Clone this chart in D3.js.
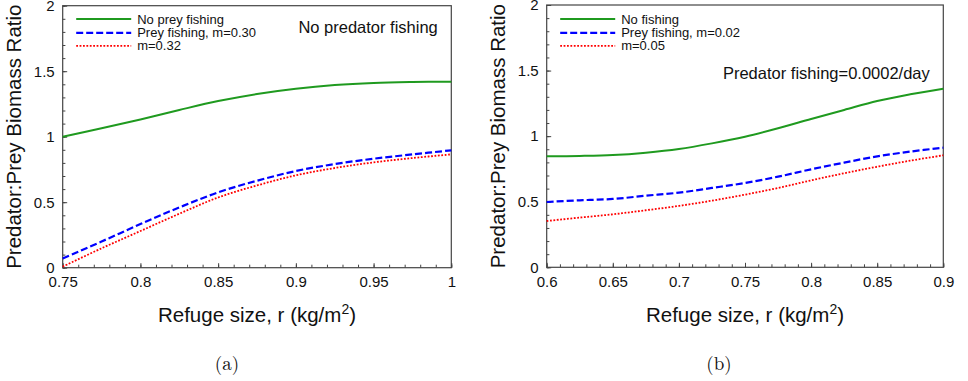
<!DOCTYPE html>
<html><head><meta charset="utf-8">
<script src="https://cdn.jsdelivr.net/npm/d3@7"></script>
<style>
html,body{margin:0;padding:0;background:#fff;}
svg text{fill:#111;}
</style></head>
<body>
<svg id="c" width="968" height="381" font-family="'Liberation Sans',Arial,Helvetica,sans-serif"></svg>
<script>
// ---------- data ----------
const rA = [0.75,0.775,0.8,0.825,0.85,0.875,0.9,0.925,0.95,0.975,1.0];
const noFishA = [1.00,1.064,1.132,1.204,1.272,1.326,1.366,1.394,1.41,1.417,1.42];
const preyFishA = [0.071,0.20,0.333,0.46,0.575,0.664,0.738,0.791,0.832,0.865,0.896];
const preyFish2A = [0.008,0.148,0.28,0.412,0.536,0.628,0.705,0.761,0.804,0.837,0.865];

const rB = [0.6,0.625,0.65,0.675,0.7,0.725,0.75,0.775,0.8,0.825,0.85,0.875,0.9];
const noFishB = [0.846,0.849,0.856,0.874,0.902,0.945,0.996,1.06,1.131,1.2,1.268,1.319,1.362];
const preyFishB = [0.498,0.511,0.521,0.546,0.569,0.605,0.643,0.691,0.747,0.798,0.846,0.882,0.912];
const preyFish2B = [0.353,0.379,0.404,0.435,0.468,0.508,0.554,0.605,0.663,0.717,0.767,0.813,0.854];

const legendA = ["No prey fishing","Prey fishing, m=0.30","m=0.32"];
const legendB = ["No fishing","Prey fishing, m=0.02","m=0.05"];
const noteA = "No predator fishing";
const noteB = "Predator fishing=0.0002/day";

const yTicks = [0,0.5,1,1.5,2];
const yTickLabels = ["0","0.5","1","1.5","2"];
const xTicksA = [0.75,0.8,0.85,0.9,0.95,1];
const xTickLabelsA = ["0.75","0.8","0.85","0.9","0.95","1"];
const xTicksB = [0.6,0.65,0.7,0.75,0.8,0.85,0.9];
const xTickLabelsB = ["0.6","0.65","0.7","0.75","0.8","0.85","0.9"];
const yTitle = "Predator:Prey Biomass Ratio";
const xTitle = "Refuge size, r (kg/m";
const subLabels = ["(a)","(b)"];

// ---------- styles ----------
const seriesStyle = [
  {color:"#1f9a1f", width:2, dash:null},
  {color:"#0000ff", width:2.2, dash:"7,3"},
  {color:"#ff0000", width:1.8, dash:"1.8,1.6"}
];

const svg = d3.select("#c");

function panel(opts){
  const {left,right,top,bottom,xDomain,xTicks,xLabels,xMinorStep,r,series,legend,note,noteY,sub,subX} = opts;
  const x = d3.scaleLinear().domain(xDomain).range([left,right]);
  const y = d3.scaleLinear().domain([0,2]).range([bottom,top]);
  const g = svg.append("g");

  // minor ticks
  const xMinor = d3.range(xDomain[0], xDomain[1]+1e-9, xMinorStep).map(v=>+v.toFixed(4));
  const yMinor = d3.range(0, 2+1e-9, 0.1).map(v=>+v.toFixed(4));
  g.append("g").attr("transform",`translate(0,${bottom})`)
    .call(d3.axisBottom(x).tickValues(xMinor).tickSizeInner(-3).tickSizeOuter(0).tickFormat(""))
    .call(s=>{s.select(".domain").remove(); s.selectAll("line").attr("stroke","#444");});
  g.append("g").attr("transform",`translate(${left},0)`)
    .call(d3.axisLeft(y).tickValues(yMinor).tickSizeInner(-2.7).tickSizeOuter(0).tickFormat(""))
    .call(s=>{s.select(".domain").remove(); s.selectAll("line").attr("stroke","#444");});

  // major ticks + labels
  g.append("g").attr("transform",`translate(0,${bottom})`)
    .call(d3.axisBottom(x).tickValues(xTicks).tickSizeInner(-4.5).tickSizeOuter(0).tickPadding(9)
      .tickFormat((d,i)=>xLabels[i]))
    .call(s=>{s.select(".domain").remove(); s.selectAll("line").attr("stroke","#444");
      s.attr("font-family",null).attr("font-size",null);
      s.selectAll("text").attr("font-size","15px").attr("fill","#111");});
  g.append("g").attr("transform",`translate(${left},0)`)
    .call(d3.axisLeft(y).tickValues(yTicks).tickSizeInner(-4.5).tickSizeOuter(0).tickPadding(8)
      .tickFormat((d,i)=>yTickLabels[i]))
    .call(s=>{s.select(".domain").remove(); s.selectAll("line").attr("stroke","#444");
      s.attr("font-family",null).attr("font-size",null);
      s.selectAll("text").attr("font-size","15px").attr("fill","#111");});

  // frame
  g.append("rect").attr("x",left).attr("y",top).attr("width",right-left).attr("height",bottom-top)
    .attr("fill","none").attr("stroke","#444").attr("stroke-width",1.2);

  // lines
  const line = d3.line().x((d,i)=>x(r[i])).y(d=>y(d)).curve(d3.curveCatmullRom.alpha(0.5));
  series.forEach((s,k)=>{
    const st = seriesStyle[k];
    g.append("path").datum(s).attr("d",line).attr("fill","none")
      .attr("stroke",st.color).attr("stroke-width",st.width)
      .attr("stroke-dasharray",st.dash);
  });

  // legend
  const lx0 = left+13.5, lx1 = left+68.5, ly = [19,32.8,45.8];
  legend.forEach((t,k)=>{
    const st = seriesStyle[k];
    g.append("line").attr("x1",lx0).attr("x2",lx1).attr("y1",ly[k]).attr("y2",ly[k])
      .attr("stroke",st.color).attr("stroke-width",st.width).attr("stroke-dasharray",st.dash);
    g.append("text").attr("x",lx1+6).attr("y",ly[k]).attr("dy","0.36em")
      .attr("font-size","13px").text(t);
  });

  // note
  g.append("text").attr("x",right-13.5).attr("y",noteY).attr("text-anchor","end")
    .attr("font-size","16.5px").text(note);

  // y title
  g.append("text").attr("transform",`translate(${left-41.5},${(top+bottom)/2}) rotate(-90)`)
    .attr("text-anchor","middle").attr("font-size","20.5px").text(yTitle);

  // x title
  const xt = g.append("text").attr("x",(left+right)/2).attr("y",322).attr("text-anchor","middle")
    .attr("font-size","20.5px");
  xt.append("tspan").text(xTitle);
  xt.append("tspan").attr("dy",-8).attr("font-size","14px").text("2");
  xt.append("tspan").attr("dy",8).text(")");

  // sub label
  svg.append("text").attr("x",subX).attr("y",370).attr("text-anchor","middle")
    .attr("font-family","'Latin Modern Roman','CMU Serif','Liberation Serif','DejaVu Serif',serif")
    .attr("font-size","19px").text(sub);
}

panel({left:62.7,right:451.3,top:5.7,bottom:267.7,xDomain:[0.75,1],xTicks:xTicksA,xLabels:xTickLabelsA,
  xMinorStep:0.01,r:rA,series:[noFishA,preyFishA,preyFish2A],legend:legendA,note:noteA,noteY:32.5,
  sub:subLabels[0],subX:227});
panel({left:546.7,right:943.3,top:5,bottom:267.3,xDomain:[0.6,0.9],xTicks:xTicksB,xLabels:xTickLabelsB,
  xMinorStep:0.01,r:rB,series:[noFishB,preyFishB,preyFish2B],legend:legendB,note:noteB,noteY:79,
  sub:subLabels[1],subX:719});
</script>
</body></html>
